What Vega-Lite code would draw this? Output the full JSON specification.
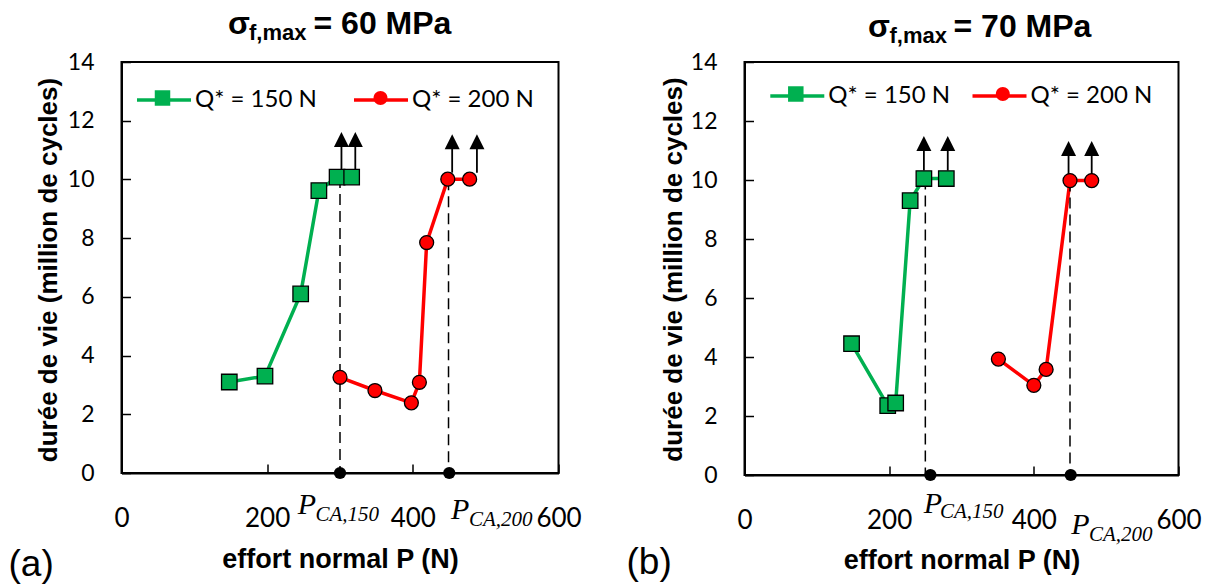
{
  "$schema": "https://vega.github.io/schema/vega-lite/v6.json",
  "background": "white",
  "padding": {"left": 7.5, "top": 7, "right": 5, "bottom": 2},
  "config": {
    "view": {"stroke": "black", "strokeWidth": 2},
    "axis": {"grid": false, "domainColor": "black", "domainWidth": 2, "tickColor": "black", "tickWidth": 1.5, "tickSize": -9, "labelColor": "black", "labelFont": "Lato", "titleColor": "black", "titleFont": "Liberation Sans", "titleFontWeight": "bold", "labelFlush": false, "labelOverlap": false}
  },
  "datasets": {
    "series": [
      {"panel": "a", "series": "Q* = 150 N", "q": "150", "P": 148, "life": 3.1},
      {"panel": "a", "series": "Q* = 150 N", "q": "150", "P": 197, "life": 3.3},
      {"panel": "a", "series": "Q* = 150 N", "q": "150", "P": 246, "life": 6.1},
      {"panel": "a", "series": "Q* = 150 N", "q": "150", "P": 271, "life": 9.62},
      {"panel": "a", "series": "Q* = 150 N", "q": "150", "P": 296, "life": 10.08},
      {"panel": "a", "series": "Q* = 150 N", "q": "150", "P": 316, "life": 10.08},
      {"panel": "a", "series": "Q* = 200 N", "q": "200", "P": 300, "life": 3.26},
      {"panel": "a", "series": "Q* = 200 N", "q": "200", "P": 348, "life": 2.81},
      {"panel": "a", "series": "Q* = 200 N", "q": "200", "P": 398, "life": 2.39},
      {"panel": "a", "series": "Q* = 200 N", "q": "200", "P": 409, "life": 3.09},
      {"panel": "a", "series": "Q* = 200 N", "q": "200", "P": 419, "life": 7.85},
      {"panel": "a", "series": "Q* = 200 N", "q": "200", "P": 448, "life": 10.01},
      {"panel": "a", "series": "Q* = 200 N", "q": "200", "P": 478, "life": 10.01},
      {"panel": "b", "series": "Q* = 150 N", "q": "150", "P": 148, "life": 4.45},
      {"panel": "b", "series": "Q* = 150 N", "q": "150", "P": 198, "life": 2.35},
      {"panel": "b", "series": "Q* = 150 N", "q": "150", "P": 209, "life": 2.44},
      {"panel": "b", "series": "Q* = 150 N", "q": "150", "P": 229, "life": 9.3},
      {"panel": "b", "series": "Q* = 150 N", "q": "150", "P": 248, "life": 10.05},
      {"panel": "b", "series": "Q* = 150 N", "q": "150", "P": 279, "life": 10.05},
      {"panel": "b", "series": "Q* = 200 N", "q": "200", "P": 351, "life": 3.93},
      {"panel": "b", "series": "Q* = 200 N", "q": "200", "P": 400, "life": 3.04},
      {"panel": "b", "series": "Q* = 200 N", "q": "200", "P": 417, "life": 3.58},
      {"panel": "b", "series": "Q* = 200 N", "q": "200", "P": 450, "life": 9.98},
      {"panel": "b", "series": "Q* = 200 N", "q": "200", "P": 480, "life": 9.98}
    ],
    "pca": [
      {"panel": "a", "q": 150, "Pline": 300, "Pdot": 300, "top": 10.08, "sym": "P", "sub": "CA,150"},
      {"panel": "a", "q": 200, "Pline": 449, "Pdot": 450, "top": 10.01, "sym": "P", "sub": "CA,200"},
      {"panel": "b", "q": 150, "Pline": 250, "Pdot": 257, "top": 10.05, "sym": "P", "sub": "CA,150"},
      {"panel": "b", "q": 200, "Pline": 450, "Pdot": 451, "top": 9.98, "sym": "P", "sub": "CA,200"}
    ],
    "arrows": [
      {"panel": "a", "P": 302, "base": 10.35, "head": 11.36},
      {"panel": "a", "P": 321, "base": 10.35, "head": 11.36},
      {"panel": "a", "P": 454, "base": 10.23, "head": 11.28},
      {"panel": "a", "P": 488, "base": 10.23, "head": 11.28},
      {"panel": "b", "P": 248, "base": 10.32, "head": 11.24},
      {"panel": "b", "P": 281, "base": 10.32, "head": 11.24},
      {"panel": "b", "P": 448, "base": 10.2, "head": 11.07},
      {"panel": "b", "P": 480, "base": 10.2, "head": 11.07}
    ],
    "titles": [
      {"panel": "a", "sym": "σ", "sub": "f,max", "main": "= 60 MPa", "tag": "(a)"},
      {"panel": "b", "sym": "σ", "sub": "f,max", "main": "= 70 MPa", "tag": "(b)"}
    ]
  },
  "spacing": 186,
  "bounds": "flush",
  "resolve": {
    "scale": {"stroke": "independent", "fill": "independent", "shape": "independent"},
    "legend": {"stroke": "independent", "fill": "independent", "shape": "independent"}
  },
  "hconcat": [
    {
      "width": 437,
      "height": 411,
      "layer": [
        {
          "data": {"name": "series"},
          "transform": [{"filter": "datum.panel === 'a'"}],
          "mark": {"type": "line", "strokeWidth": 3.5},
          "encoding": {
            "x": {"field": "P", "type": "quantitative", "scale": {"domain": [0, 600], "nice": false},
                  "axis": {"values": [0, 200, 400, 600], "title": "effort normal P (N)", "titleFontSize": 27, "titleY": 94.7, "titleBaseline": "alphabetic", "labelFontSize": 26, "labelPadding": 41}},
            "y": {"field": "life", "type": "quantitative", "scale": {"domain": [0, 14], "nice": false},
                  "axis": {"values": [0, 2, 4, 6, 8, 10, 12, 14], "title": "durée de vie (million de cycles)", "titleFontSize": 26, "titleX": -64.7, "titleY": 207.5, "titleAngle": -90, "titleAlign": "center", "titleBaseline": "alphabetic", "labelFontSize": 23, "labelPadding": 36.5}},
            "stroke": {"field": "series", "type": "nominal",
                       "scale": {"domain": ["Q* = 150 N", "Q* = 200 N"], "range": ["#00B050", "#FF0000"]},
                       "legend": {"orient": "none", "legendX": 13.5, "legendY": 9, "direction": "horizontal", "title": null, "symbolType": "stroke", "symbolSize": 2916, "symbolStrokeWidth": 3.5, "labelFont": "Lato", "labelFontSize": 24, "labelColor": "black", "labelOffset": 2, "columnPadding": 30, "padding": 0}}
          }
        },
        {
          "data": {"name": "pca"},
          "transform": [{"filter": "datum.panel === 'a'"}],
          "mark": {"type": "rule", "strokeDash": [11, 6], "strokeWidth": 1.5, "color": "black"},
          "encoding": {
            "x": {"field": "Pline", "type": "quantitative", "scale": {"domain": [0, 600], "nice": false}},
            "y": {"field": "top", "type": "quantitative", "scale": {"domain": [0, 14], "nice": false}},
            "y2": {"datum": 0}
          }
        },
        {
          "data": {"name": "arrows"},
          "transform": [{"filter": "datum.panel === 'a'"}],
          "mark": {"type": "rule", "strokeWidth": 1.8, "color": "black"},
          "encoding": {"x": {"field": "P", "type": "quantitative", "scale": {"domain": [0, 600], "nice": false}},
                       "y": {"field": "base", "type": "quantitative", "scale": {"domain": [0, 14], "nice": false}},
                       "y2": {"field": "head"}}
        },
        {
          "data": {"name": "arrows"},
          "transform": [{"filter": "datum.panel === 'a'"}],
          "mark": {"type": "point", "shape": "M0,-1L1,1L-1,1Z", "size": 225, "filled": true, "color": "black", "opacity": 1, "strokeWidth": 0},
          "encoding": {"x": {"field": "P", "type": "quantitative", "scale": {"domain": [0, 600], "nice": false}},
                       "y": {"field": "head", "type": "quantitative", "scale": {"domain": [0, 14], "nice": false}}}
        },
        {
          "data": {"name": "series"},
          "transform": [{"filter": "datum.panel === 'a'"}],
          "mark": {"type": "point", "filled": true, "opacity": 1, "stroke": "black", "strokeWidth": 1.3, "size": 240},
          "encoding": {
            "x": {"field": "P", "type": "quantitative", "scale": {"domain": [0, 600], "nice": false}},
            "y": {"field": "life", "type": "quantitative", "scale": {"domain": [0, 14], "nice": false}},
            "fill": {"field": "q", "type": "nominal",
                     "scale": {"domain": ["150", "200"], "range": ["#00B050", "#FF0000"]},
                     "legend": {"orient": "none", "legendX": 29, "legendY": 24, "direction": "horizontal", "title": null, "symbolSize": 240, "symbolStrokeColor": "black", "symbolStrokeWidth": 1.3, "labelFontSize": 24, "labelExpr": "''", "labelOffset": 0, "columnPadding": 194, "padding": 0}},
            "shape": {"field": "q", "type": "nominal",
                      "scale": {"domain": ["150", "200"], "range": ["square", "M0.9,0A0.9,0.9,0,1,1,-0.9,0A0.9,0.9,0,1,1,0.9,0Z"]},
                      "legend": {"orient": "none", "legendX": 29, "legendY": 24, "direction": "horizontal", "title": null, "symbolSize": 240, "symbolStrokeColor": "black", "symbolStrokeWidth": 1.3, "labelFontSize": 24, "labelExpr": "''", "labelOffset": 0, "columnPadding": 194, "padding": 0}}
          }
        },
        {
          "data": {"name": "pca"},
          "transform": [{"filter": "datum.panel === 'a'"}],
          "mark": {"type": "circle", "size": 150, "color": "black", "opacity": 1},
          "encoding": {
            "x": {"field": "Pdot", "type": "quantitative", "scale": {"domain": [0, 600], "nice": false}},
            "y": {"datum": 0, "type": "quantitative", "scale": {"domain": [0, 14], "nice": false}}
          }
        },
        {
          "data": {"name": "pca"},
          "transform": [{"filter": "datum.panel === 'a' && datum.q === 150"}],
          "encoding": {
            "x": {"field": "Pline", "type": "quantitative", "scale": {"domain": [0, 600], "nice": false}},
            "y": {"datum": 0, "type": "quantitative", "scale": {"domain": [0, 14], "nice": false}}
          },
          "layer": [
            {"mark": {"type": "text", "font": "Liberation Serif", "fontStyle": "italic", "fontSize": 30, "align": "left", "baseline": "alphabetic", "color": "black", "dx": -42.3, "dy": 41.3}, "encoding": {"text": {"field": "sym"}}},
            {"mark": {"type": "text", "font": "Liberation Serif", "fontStyle": "italic", "fontSize": 21, "align": "left", "baseline": "alphabetic", "color": "black", "dx": -24.5, "dy": 48}, "encoding": {"text": {"field": "sub"}}}
          ]
        },
        {
          "data": {"name": "pca"},
          "transform": [{"filter": "datum.panel === 'a' && datum.q === 200"}],
          "encoding": {
            "x": {"field": "Pline", "type": "quantitative", "scale": {"domain": [0, 600], "nice": false}},
            "y": {"datum": 0, "type": "quantitative", "scale": {"domain": [0, 14], "nice": false}}
          },
          "layer": [
            {"mark": {"type": "text", "font": "Liberation Serif", "fontStyle": "italic", "fontSize": 30, "align": "left", "baseline": "alphabetic", "color": "black", "dx": 2.5, "dy": 46}, "encoding": {"text": {"field": "sym"}}},
            {"mark": {"type": "text", "font": "Liberation Serif", "fontStyle": "italic", "fontSize": 21, "align": "left", "baseline": "alphabetic", "color": "black", "dx": 20.5, "dy": 53}, "encoding": {"text": {"field": "sub"}}}
          ]
        },
        {
          "data": {"name": "titles"},
          "transform": [{"filter": "datum.panel === 'a'"}],
          "encoding": {
            "x": {"datum": 300, "type": "quantitative", "scale": {"domain": [0, 600], "nice": false}},
            "y": {"datum": 14, "type": "quantitative", "scale": {"domain": [0, 14], "nice": false}}
          },
          "layer": [
            {"mark": {"type": "text", "font": "Liberation Sans", "fontWeight": "bold", "fontSize": 32, "align": "left", "baseline": "alphabetic", "color": "black", "dx": -112, "dy": -27.7}, "encoding": {"text": {"field": "sym"}}},
            {"mark": {"type": "text", "font": "Liberation Sans", "fontWeight": "bold", "fontSize": 22, "align": "left", "baseline": "alphabetic", "color": "black", "dx": -91, "dy": -21.7}, "encoding": {"text": {"field": "sub"}}},
            {"mark": {"type": "text", "font": "Liberation Sans", "fontWeight": "bold", "fontSize": 32, "align": "left", "baseline": "alphabetic", "color": "black", "dx": -26.5, "dy": -27.7}, "encoding": {"text": {"field": "main"}}}
          ]
        },
        {
          "data": {"name": "titles"},
          "transform": [{"filter": "datum.panel === 'a'"}],
          "mark": {"type": "text", "font": "Liberation Sans", "fontSize": 37, "align": "left", "baseline": "alphabetic", "color": "black", "dx": -113, "dy": 103},
          "encoding": {
            "x": {"datum": 0, "type": "quantitative", "scale": {"domain": [0, 600], "nice": false}},
            "y": {"datum": 0, "type": "quantitative", "scale": {"domain": [0, 14], "nice": false}},
            "text": {"field": "tag"}
          }
        }
      ]
    },
    {
      "width": 434,
      "height": 413,
      "layer": [
        {
          "data": {"name": "series"},
          "transform": [{"filter": "datum.panel === 'b'"}],
          "mark": {"type": "line", "strokeWidth": 3.5},
          "encoding": {
            "x": {"field": "P", "type": "quantitative", "scale": {"domain": [0, 600], "nice": false},
                  "axis": {"values": [0, 200, 400, 600], "title": "effort normal P (N)", "titleFontSize": 27, "titleY": 93.3, "titleBaseline": "alphabetic", "labelFontSize": 26, "labelPadding": 41}},
            "y": {"field": "life", "type": "quantitative", "scale": {"domain": [0, 14], "nice": false},
                  "axis": {"values": [0, 2, 4, 6, 8, 10, 12, 14], "title": "durée de vie (million de cycles)", "titleFontSize": 26, "titleX": -63, "titleY": 207, "titleAngle": -90, "titleAlign": "center", "titleBaseline": "alphabetic", "labelFontSize": 23, "labelPadding": 36.5}},
            "stroke": {"field": "series", "type": "nominal",
                       "scale": {"domain": ["Q* = 150 N", "Q* = 200 N"], "range": ["#00B050", "#FF0000"]},
                       "legend": {"orient": "none", "legendX": 23.8, "legendY": 5, "direction": "horizontal", "title": null, "symbolType": "stroke", "symbolSize": 2916, "symbolStrokeWidth": 3.5, "labelFont": "Lato", "labelFontSize": 24, "labelColor": "black", "labelOffset": 2, "columnPadding": 15.2, "padding": 0}}
          }
        },
        {
          "data": {"name": "pca"},
          "transform": [{"filter": "datum.panel === 'b'"}],
          "mark": {"type": "rule", "strokeDash": [11, 6], "strokeWidth": 1.5, "color": "black"},
          "encoding": {
            "x": {"field": "Pline", "type": "quantitative", "scale": {"domain": [0, 600], "nice": false}},
            "y": {"field": "top", "type": "quantitative", "scale": {"domain": [0, 14], "nice": false}},
            "y2": {"datum": 0}
          }
        },
        {
          "data": {"name": "arrows"},
          "transform": [{"filter": "datum.panel === 'b'"}],
          "mark": {"type": "rule", "strokeWidth": 1.8, "color": "black"},
          "encoding": {"x": {"field": "P", "type": "quantitative", "scale": {"domain": [0, 600], "nice": false}},
                       "y": {"field": "base", "type": "quantitative", "scale": {"domain": [0, 14], "nice": false}},
                       "y2": {"field": "head"}}
        },
        {
          "data": {"name": "arrows"},
          "transform": [{"filter": "datum.panel === 'b'"}],
          "mark": {"type": "point", "shape": "M0,-1L1,1L-1,1Z", "size": 225, "filled": true, "color": "black", "opacity": 1, "strokeWidth": 0},
          "encoding": {"x": {"field": "P", "type": "quantitative", "scale": {"domain": [0, 600], "nice": false}},
                       "y": {"field": "head", "type": "quantitative", "scale": {"domain": [0, 14], "nice": false}}}
        },
        {
          "data": {"name": "series"},
          "transform": [{"filter": "datum.panel === 'b'"}],
          "mark": {"type": "point", "filled": true, "opacity": 1, "stroke": "black", "strokeWidth": 1.3, "size": 240},
          "encoding": {
            "x": {"field": "P", "type": "quantitative", "scale": {"domain": [0, 600], "nice": false}},
            "y": {"field": "life", "type": "quantitative", "scale": {"domain": [0, 14], "nice": false}},
            "fill": {"field": "q", "type": "nominal",
                     "scale": {"domain": ["150", "200"], "range": ["#00B050", "#FF0000"]},
                     "legend": {"orient": "none", "legendX": 39.3, "legendY": 20, "direction": "horizontal", "title": null, "symbolSize": 240, "symbolStrokeColor": "black", "symbolStrokeWidth": 1.3, "labelFontSize": 24, "labelExpr": "''", "labelOffset": 0, "columnPadding": 183, "padding": 0}},
            "shape": {"field": "q", "type": "nominal",
                      "scale": {"domain": ["150", "200"], "range": ["square", "M0.9,0A0.9,0.9,0,1,1,-0.9,0A0.9,0.9,0,1,1,0.9,0Z"]},
                      "legend": {"orient": "none", "legendX": 39.3, "legendY": 20, "direction": "horizontal", "title": null, "symbolSize": 240, "symbolStrokeColor": "black", "symbolStrokeWidth": 1.3, "labelFontSize": 24, "labelExpr": "''", "labelOffset": 0, "columnPadding": 183, "padding": 0}}
          }
        },
        {
          "data": {"name": "pca"},
          "transform": [{"filter": "datum.panel === 'b'"}],
          "mark": {"type": "circle", "size": 150, "color": "black", "opacity": 1},
          "encoding": {
            "x": {"field": "Pdot", "type": "quantitative", "scale": {"domain": [0, 600], "nice": false}},
            "y": {"datum": 0, "type": "quantitative", "scale": {"domain": [0, 14], "nice": false}}
          }
        },
        {
          "data": {"name": "pca"},
          "transform": [{"filter": "datum.panel === 'b' && datum.q === 150"}],
          "encoding": {
            "x": {"field": "Pline", "type": "quantitative", "scale": {"domain": [0, 600], "nice": false}},
            "y": {"datum": 0, "type": "quantitative", "scale": {"domain": [0, 14], "nice": false}}
          },
          "layer": [
            {"mark": {"type": "text", "font": "Liberation Serif", "fontStyle": "italic", "fontSize": 30, "align": "left", "baseline": "alphabetic", "color": "black", "dx": -1.6, "dy": 38}, "encoding": {"text": {"field": "sym"}}},
            {"mark": {"type": "text", "font": "Liberation Serif", "fontStyle": "italic", "fontSize": 21, "align": "left", "baseline": "alphabetic", "color": "black", "dx": 14.6, "dy": 43}, "encoding": {"text": {"field": "sub"}}}
          ]
        },
        {
          "data": {"name": "pca"},
          "transform": [{"filter": "datum.panel === 'b' && datum.q === 200"}],
          "encoding": {
            "x": {"field": "Pline", "type": "quantitative", "scale": {"domain": [0, 600], "nice": false}},
            "y": {"datum": 0, "type": "quantitative", "scale": {"domain": [0, 14], "nice": false}}
          },
          "layer": [
            {"mark": {"type": "text", "font": "Liberation Serif", "fontStyle": "italic", "fontSize": 30, "align": "left", "baseline": "alphabetic", "color": "black", "dx": 1.2, "dy": 59}, "encoding": {"text": {"field": "sym"}}},
            {"mark": {"type": "text", "font": "Liberation Serif", "fontStyle": "italic", "fontSize": 21, "align": "left", "baseline": "alphabetic", "color": "black", "dx": 19, "dy": 66}, "encoding": {"text": {"field": "sub"}}}
          ]
        },
        {
          "data": {"name": "titles"},
          "transform": [{"filter": "datum.panel === 'b'"}],
          "encoding": {
            "x": {"datum": 300, "type": "quantitative", "scale": {"domain": [0, 600], "nice": false}},
            "y": {"datum": 14, "type": "quantitative", "scale": {"domain": [0, 14], "nice": false}}
          },
          "layer": [
            {"mark": {"type": "text", "font": "Liberation Sans", "fontWeight": "bold", "fontSize": 32, "align": "left", "baseline": "alphabetic", "color": "black", "dx": -93.4, "dy": -25}, "encoding": {"text": {"field": "sym"}}},
            {"mark": {"type": "text", "font": "Liberation Sans", "fontWeight": "bold", "fontSize": 22, "align": "left", "baseline": "alphabetic", "color": "black", "dx": -72, "dy": -19.3}, "encoding": {"text": {"field": "sub"}}},
            {"mark": {"type": "text", "font": "Liberation Sans", "fontWeight": "bold", "fontSize": 32, "align": "left", "baseline": "alphabetic", "color": "black", "dx": -8, "dy": -25}, "encoding": {"text": {"field": "main"}}}
          ]
        },
        {
          "data": {"name": "titles"},
          "transform": [{"filter": "datum.panel === 'b'"}],
          "mark": {"type": "text", "font": "Liberation Sans", "fontSize": 37, "align": "left", "baseline": "alphabetic", "color": "black", "dx": -118, "dy": 99},
          "encoding": {
            "x": {"datum": 0, "type": "quantitative", "scale": {"domain": [0, 600], "nice": false}},
            "y": {"datum": 0, "type": "quantitative", "scale": {"domain": [0, 14], "nice": false}},
            "text": {"field": "tag"}
          }
        }
      ]
    }
  ]
}
